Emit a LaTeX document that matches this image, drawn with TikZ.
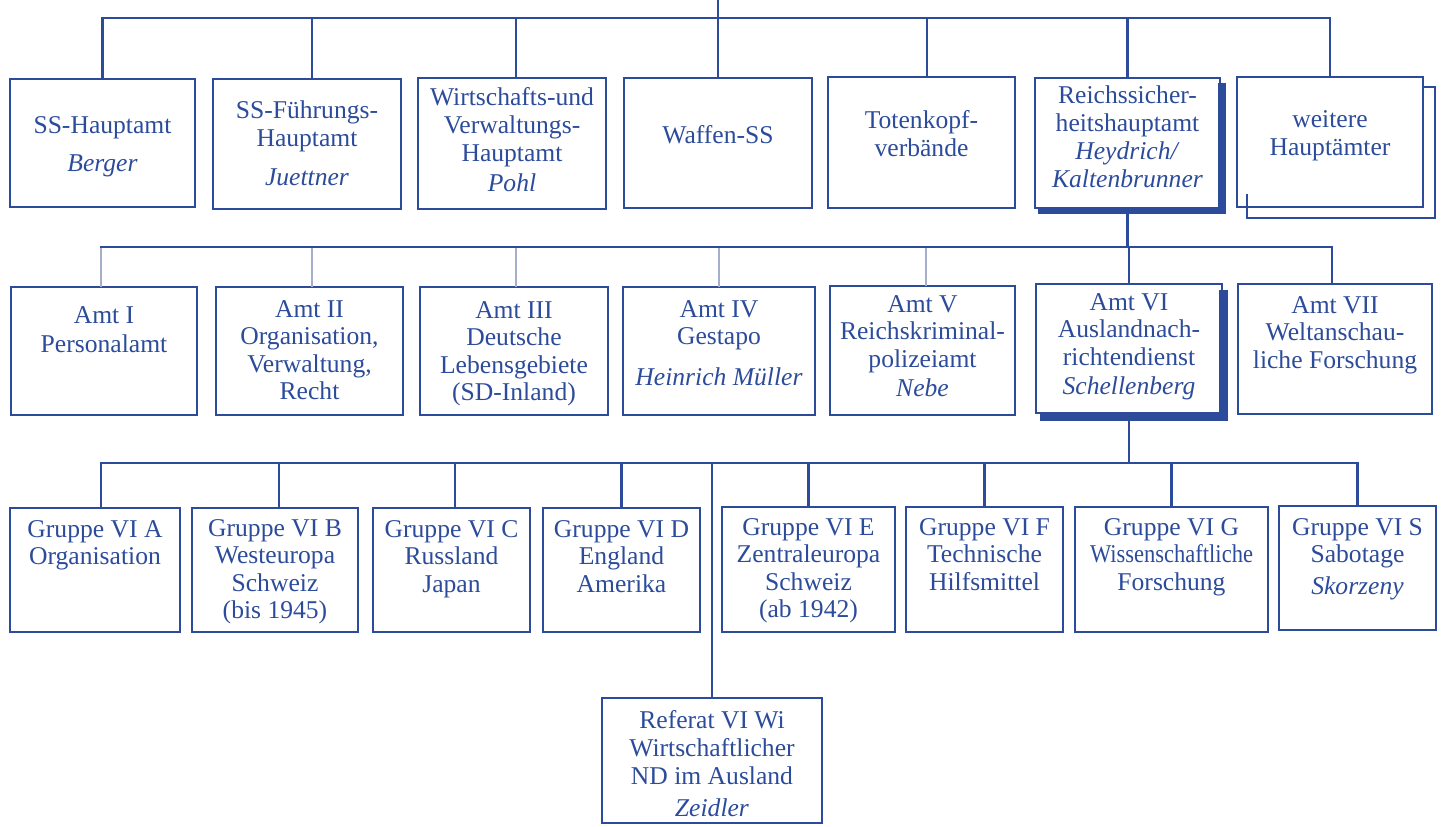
\documentclass[tikz,border=0pt]{standalone}
\usepackage{fontspec}
\setmainfont{Liberation Serif}
\usepackage{graphicx}
\definecolor{refblue}{RGB}{44,76,155}
\definecolor{fadeblue}{RGB}{165,175,205}
\tikzset{
  obox/.style={draw=refblue, line width=1.3pt, inner sep=0pt, outer sep=0pt, rectangle},
  conn/.style={draw=refblue, line width=1.3pt, line cap=rect},
  fconn/.style={draw=fadeblue, line width=1.3pt},
  otxt/.style={anchor=base, inner sep=0pt, text=refblue, font=\fontsize{12.8}{13.75}\selectfont},
  otxtA/.style={otxt, font=\fontsize{12.8}{14}\selectfont},
  otxtC/.style={otxt, font=\fontsize{12.8}{13.75}\selectfont},
  otxtR/.style={otxt, font=\fontsize{12.8}{14}\selectfont},
  thick shadow/.style={fill=refblue},
}
\newcommand\mkbox[5]{\node[obox, minimum width={(#4-#2)*0.5pt}, minimum height={(#5-#3)*0.5pt}] (#1) at ({(#2+#4)/2},{(#3+#5)/2}) {};}
\newcommand\mktext[5][otxt]{\node[#1] (#2) at (#3,#4) {\begin{tabular}[t]{@{}c@{}}#5\end{tabular}};}
\begin{document}
\begin{tikzpicture}[x=0.5pt, y=-0.5pt]
\fill[white] (0,0) rectangle (1442,826);
\useasboundingbox (0,0) rectangle (1442,826);

% ---------- row 1 ----------
\mkbox{r1a}{10}{79}{195}{207}
\mkbox{r1b}{213}{79}{401}{209}
\mkbox{r1c}{418}{78}{606}{209}
\mkbox{r1d}{624}{78}{812}{208}
\mkbox{r1e}{828}{77}{1015}{208}
\mkbox{r1f}{1035}{78}{1220}{208}
\mkbox{r1g}{1237}{77}{1423}{207}
% thick shadow of Reichssicherheitshauptamt
\fill[thick shadow] (1038,208) rectangle (1226,214);
\fill[thick shadow] (1218,83) rectangle (1226,214);
% offset frame behind "weitere Hauptaemter"
\draw[refblue, line width=0.9pt] (1247,194) -- (1247,218) -- (1435,218) -- (1435,87) -- (1423,87);

\mktext[otxtA]{t1a}{102.5}{133}{SS-Hauptamt\\[5pt]\textit{Berger}}
\mktext[otxtA]{t1b}{307}{118}{SS-Führungs-\\Hauptamt\\[5.5pt]\textit{Juettner}}
\mktext[otxtA]{t1c}{512}{105}{Wirtschafts-und\\Verwaltungs-\\Hauptamt\\[1pt]\textit{Pohl}}
\mktext[otxtA]{t1d}{718}{143}{Waffen-SS}
\mktext[otxtA]{t1e}{921.5}{128}{Totenkopf-\\verbände}
\mktext[otxtA]{t1f}{1127.5}{103}{Reichssicher-\\heitshauptamt\\\textit{Heydrich/}\\\textit{Kaltenbrunner}}
\mktext[otxtA]{t1g}{1330}{127}{weitere\\Hauptämter}

% ---------- row 2 ----------
\mkbox{r2a}{11}{287}{197}{415}
\mkbox{r2b}{216}{287}{403}{415}
\mkbox{r2c}{420}{287}{608}{415}
\mkbox{r2d}{623}{287}{815}{415}
\mkbox{r2e}{830}{286}{1015}{415}
\mkbox{r2f}{1036}{284}{1222}{413}
\mkbox{r2g}{1238}{284}{1432}{414}
\fill[thick shadow] (1040,413) rectangle (1228,421);
\fill[thick shadow] (1219,290) rectangle (1228,421);

\mktext{t2a}{104}{323}{Amt I\\[0.8pt]Personalamt}
\mktext{t2b}{309.5}{317}{Amt II\\Organisation,\\Verwaltung,\\Recht}
\mktext{t2c}{514}{318}{Amt III\\Deutsche\\Lebensgebiete\\(SD-Inland)}
\mktext{t2d}{719}{317}{Amt IV\\Gestapo\\[6.5pt]\textit{Heinrich Müller}}
\mktext{t2e}{922.5}{312}{Amt V\\Reichskriminal-\\polizeiamt\\[1pt]\textit{Nebe}}
\mktext{t2f}{1129}{310}{Amt VI\\Auslandnach-\\richtendienst\\[1pt]\textit{Schellenberg}}
\mktext{t2g}{1335}{313}{Amt VII\\Weltanschau-\\liche Forschung}

% ---------- row 3 ----------
\mkbox{r3a}{10}{508}{180}{632}
\mkbox{r3b}{192}{508}{358}{632}
\mkbox{r3c}{373}{508}{530}{632}
\mkbox{r3d}{543}{508}{700}{632}
\mkbox{r3e}{722}{507}{895}{632}
\mkbox{r3f}{906}{507}{1063}{632}
\mkbox{r3g}{1075}{507}{1268}{632}
\mkbox{r3h}{1279}{506}{1436}{630}
\mkbox{ref}{602}{698}{822}{823}

\mktext[otxtC]{t3a}{95}{537}{Gruppe VI A\\Organisation}
\mktext[otxtC]{t3b}{275}{536}{Gruppe VI B\\Westeuropa\\Schweiz\\(bis 1945)}
\mktext[otxtC]{t3c}{451.5}{537}{Gruppe VI C\\Russland\\Japan}
\mktext[otxtC]{t3d}{621.5}{537}{Gruppe VI D\\England\\Amerika}
\mktext[otxtC]{t3e}{808.5}{535}{Gruppe VI E\\Zentraleuropa\\Schweiz\\(ab 1942)}
\mktext[otxtC]{t3f}{984.5}{535}{Gruppe VI F\\Technische\\Hilfsmittel}
\mktext[otxtC]{t3g}{1171.5}{535}{Gruppe VI G\\\scalebox{0.88}[1]{Wissenschaftliche}\\Forschung}
\mktext[otxtC]{t3h}{1357.5}{535}{Gruppe VI S\\Sabotage\\[2pt]\textit{Skorzeny}}
\mktext[otxtR]{tref}{712}{728}{Referat VI Wi\\Wirtschaftlicher\\ND im Ausland\\[2pt]\textit{Zeidler}}

% ---------- connectors ----------
\coordinate (top) at (718,0);
\coordinate (bus1) at (0,18);
\coordinate (bus2) at (0,247);
\coordinate (bus3) at (0,463);

% level 1
\draw[conn] (top) -- (r1d.north);
\draw[conn] (r1a.north) -- (r1a.north |- bus1) -- (r1g.north |- bus1) -- (r1g.north);
\draw[conn] ([xshift=2.5pt]r1b.north |- bus1) -- ([xshift=2.5pt]r1b.north);
\draw[conn] ([xshift=2pt]r1c.north |- bus1) -- ([xshift=2pt]r1c.north);
\draw[conn] ([xshift=2.75pt]r1e.north |- bus1) -- ([xshift=2.75pt]r1e.north);
\draw[conn] (r1f.north |- bus1) -- (r1f.north);

% level 2
\draw[fconn] ([xshift=-1.5pt]r2a.north |- bus2) -- ([xshift=-1.5pt]r2a.north);
\draw[fconn] ([xshift=1.25pt]r2b.north |- bus2) -- ([xshift=1.25pt]r2b.north);
\draw[fconn] ([xshift=1pt]r2c.north |- bus2) -- ([xshift=1pt]r2c.north);
\draw[fconn] (r2d.north |- bus2) -- (r2d.north);
\draw[fconn] ([xshift=1.75pt]r2e.north |- bus2) -- ([xshift=1.75pt]r2e.north);
\draw[conn] (r1f.south) -- (r1f.south |- bus2);
\draw[conn] ([xshift=-1.5pt]r2a.north |- bus2) -- ([xshift=-1.5pt]r2g.north |- bus2) -- ([xshift=-1.5pt]r2g.north);
\draw[conn] (r2f.north |- bus2) -- (r2f.north);

% level 3
\draw[conn] (r2f.south) -- (r2f.south |- bus3);
\draw[conn] ([xshift=3pt]r3a.north) -- ([xshift=3pt]r3a.north |- bus3) -- (r3h.north |- bus3) -- (r3h.north);
\draw[conn] ([xshift=2pt]r3b.north |- bus3) -- ([xshift=2pt]r3b.north);
\draw[conn] ([xshift=1.75pt]r3c.north |- bus3) -- ([xshift=1.75pt]r3c.north);
\foreach \n in {r3d,r3e,r3f,r3g} \draw[conn] (\n.north |- bus3) -- (\n.north);
\draw[conn] (ref.north |- bus3) -- (ref.north);
\end{tikzpicture}
\end{document}
